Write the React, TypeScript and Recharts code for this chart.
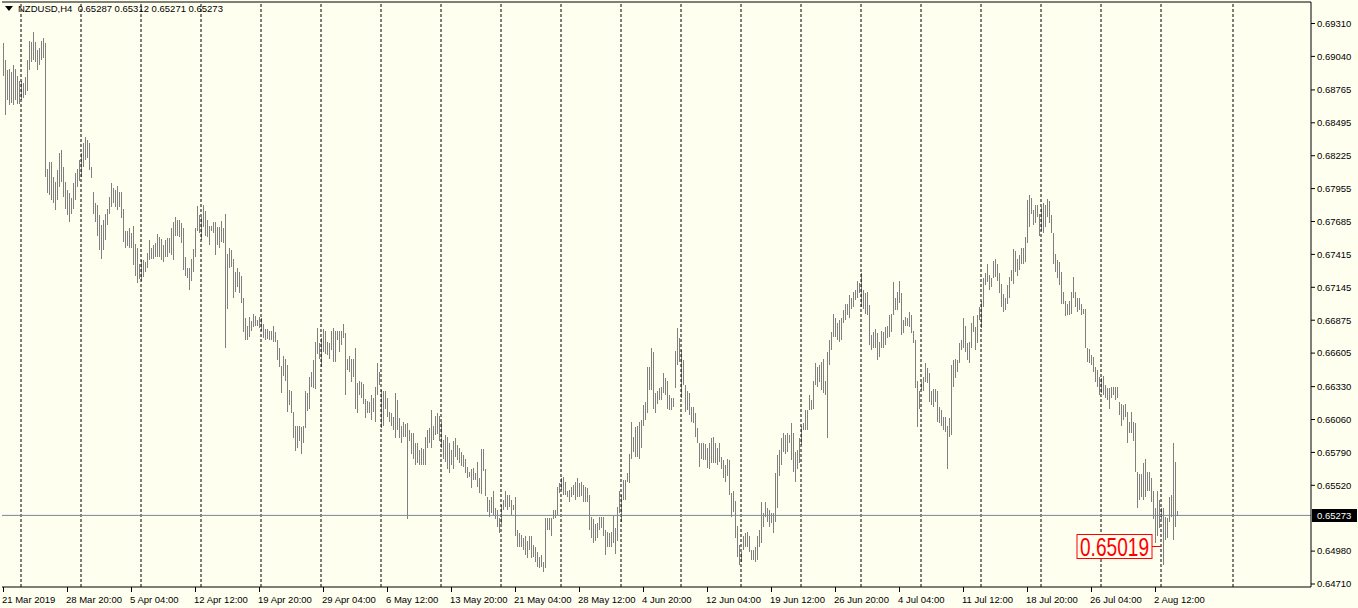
import { ComposedChart, Bar, XAxis, YAxis, ReferenceLine, ReferenceDot } from 'recharts';

// NZDUSD H4, one entry per bar, price in pips (x 0.0001)
const highs = [
  6915, 6901, 6893, 6894, 6891, 6897, 6894, 6888, 6884, 6884,
  6882, 6887, 6901, 6917, 6916, 6924, 6916, 6909, 6911, 6917,
  6919, 6915, 6812, 6817, 6817, 6805, 6801, 6811, 6825, 6827,
  6813, 6801, 6794, 6792, 6788, 6800, 6808, 6812, 6819, 6825,
  6833, 6838, 6835, 6833, 6813, 6793, 6784, 6782, 6774, 6766,
  6770, 6775, 6779, 6789, 6800, 6796, 6794, 6798, 6793, 6793,
  6779, 6761, 6761, 6763, 6759, 6765, 6750, 6747, 6734, 6737,
  6737, 6735, 6743, 6753, 6747, 6749, 6751, 6758, 6756, 6754,
  6749, 6753, 6755, 6755, 6763, 6768, 6772, 6770, 6770, 6767,
  6763, 6739, 6730, 6730, 6738, 6746, 6763, 6781, 6774, 6772,
  6782, 6777, 6770, 6765, 6765, 6768, 6768, 6764, 6764, 6769,
  6763, 6775, 6742, 6747, 6745, 6738, 6727, 6730, 6727, 6724,
  6706, 6689, 6683, 6690, 6687, 6693, 6691, 6688, 6690, 6689,
  6684, 6680, 6680, 6679, 6679, 6683, 6678, 6671, 6665, 6650,
  6658, 6656, 6651, 6630, 6629, 6612, 6601, 6601, 6601, 6600,
  6601, 6629, 6628, 6641, 6645, 6655, 6670, 6681, 6669, 6673,
  6680, 6679, 6670, 6669, 6679, 6681, 6679, 6679, 6679, 6679,
  6684, 6677, 6656, 6658, 6656, 6656, 6665, 6636, 6638, 6637,
  6635, 6623, 6621, 6620, 6626, 6624, 6633, 6652, 6645, 6630,
  6629, 6629, 6624, 6612, 6611, 6608, 6628, 6622, 6607, 6601,
  6604, 6602, 6603, 6597, 6595, 6595, 6587, 6587, 6581, 6583,
  6582, 6592, 6597, 6599, 6614, 6601, 6609, 6611, 6609, 6604,
  6589, 6593, 6592, 6587, 6581, 6588, 6591, 6585, 6583, 6579,
  6577, 6574, 6567, 6563, 6565, 6566, 6562, 6571, 6558, 6582,
  6582, 6565, 6542, 6540, 6542, 6547, 6533, 6532, 6525, 6536,
  6540, 6547, 6544, 6544, 6540, 6536, 6542, 6515, 6513, 6511,
  6509, 6510, 6506, 6510, 6510, 6503, 6501, 6497, 6493, 6495,
  6489, 6525, 6525, 6525, 6525, 6532, 6532, 6551, 6554, 6558,
  6559, 6555, 6547, 6548, 6551, 6552, 6555, 6558, 6554, 6555,
  6552, 6551, 6550, 6544, 6526, 6524, 6520, 6521, 6526, 6526,
  6526, 6515, 6514, 6513, 6514, 6527, 6517, 6534, 6547, 6544,
  6556, 6556, 6562, 6578, 6604, 6592, 6600, 6601, 6604, 6606,
  6618, 6620, 6649, 6649, 6665, 6661, 6628, 6629, 6632, 6633,
  6644, 6640, 6638, 6626, 6624, 6624, 6662, 6681, 6673, 6663,
  6655, 6634, 6629, 6628, 6616, 6616, 6611, 6599, 6587, 6587,
  6587, 6586, 6583, 6587, 6591, 6592, 6587, 6583, 6587, 6575,
  6573, 6569, 6574, 6573, 6546, 6547, 6539, 6519, 6503, 6497,
  6510, 6513, 6514, 6510, 6499, 6499, 6501, 6510, 6515, 6538,
  6529, 6538, 6533, 6532, 6529, 6529, 6562, 6577, 6581, 6591,
  6595, 6593, 6595, 6593, 6603, 6595, 6579, 6581, 6591, 6601,
  6603, 6614, 6614, 6626, 6622, 6638, 6652, 6649, 6651, 6653,
  6656, 6638, 6661, 6671, 6678, 6693, 6689, 6685, 6688, 6689,
  6696, 6701, 6701, 6708, 6706, 6711, 6712, 6720, 6718, 6726,
  6712, 6710, 6711, 6700, 6675, 6678, 6680, 6677, 6670, 6679,
  6678, 6682, 6683, 6692, 6693, 6719, 6706, 6711, 6720, 6710,
  6688, 6690, 6689, 6694, 6692, 6679, 6671, 6638, 6629, 6637,
  6641, 6652, 6648, 6644, 6629, 6631, 6631, 6629, 6616, 6614,
  6608, 6608, 6601, 6607, 6651, 6655, 6656, 6655, 6669, 6671,
  6689, 6683, 6669, 6670, 6685, 6691, 6682, 6692, 6698, 6703,
  6722, 6726, 6734, 6725, 6722, 6736, 6738, 6734, 6726, 6717,
  6709, 6706, 6716, 6723, 6729, 6746, 6744, 6738, 6741, 6747,
  6747, 6756, 6786, 6790, 6788, 6778, 6782, 6782, 6775, 6780,
  6784, 6782, 6787, 6785, 6774, 6759, 6742, 6737, 6735, 6727,
  6711, 6703, 6701, 6703, 6711, 6723, 6711, 6706, 6706, 6701,
  6697, 6697, 6665, 6664, 6659, 6657, 6649, 6647, 6641, 6640,
  6642, 6634, 6632, 6632, 6633, 6633, 6633, 6633, 6620, 6619,
  6618, 6619, 6612, 6604, 6612, 6604, 6603, 6563, 6561, 6561,
  6570, 6574, 6563, 6563, 6558, 6547, 6533, 6547, 6540, 6533,
  6533, 6526, 6525, 6542, 6544, 6587, 6571, 6531,
];

const lows = [
  6888, 6856, 6868, 6864, 6866, 6864, 6868, 6865, 6865, 6868,
  6870, 6872, 6876, 6893, 6899, 6901, 6899, 6893, 6897, 6901,
  6903, 6805, 6792, 6790, 6786, 6784, 6778, 6786, 6797, 6801,
  6789, 6779, 6774, 6768, 6775, 6779, 6786, 6797, 6802, 6805,
  6813, 6819, 6821, 6811, 6804, 6775, 6768, 6757, 6745, 6738,
  6745, 6753, 6766, 6775, 6780, 6784, 6780, 6778, 6780, 6771,
  6752, 6747, 6748, 6747, 6747, 6733, 6724, 6718, 6721, 6720,
  6723, 6727, 6730, 6737, 6738, 6738, 6739, 6739, 6739, 6737,
  6735, 6739, 6739, 6743, 6741, 6737, 6757, 6757, 6756, 6751,
  6729, 6724, 6722, 6712, 6720, 6727, 6739, 6761, 6759, 6753,
  6764, 6757, 6756, 6749, 6761, 6759, 6741, 6749, 6747, 6752,
  6751, 6665, 6697, 6730, 6731, 6706, 6711, 6715, 6710, 6702,
  6678, 6671, 6671, 6674, 6679, 6682, 6683, 6683, 6681, 6679,
  6673, 6671, 6672, 6671, 6671, 6670, 6670, 6655, 6649, 6628,
  6642, 6638, 6612, 6618, 6611, 6591, 6580, 6583, 6588, 6578,
  6587, 6599, 6613, 6615, 6633, 6632, 6631, 6660, 6656, 6649,
  6661, 6660, 6659, 6656, 6663, 6653, 6653, 6671, 6661, 6667,
  6673, 6626, 6647, 6645, 6637, 6641, 6615, 6611, 6626, 6624,
  6619, 6607, 6611, 6611, 6606, 6612, 6604, 6626, 6634, 6599,
  6601, 6615, 6608, 6604, 6601, 6597, 6591, 6597, 6591, 6587,
  6592, 6592, 6524, 6588, 6578, 6574, 6569, 6570, 6569, 6569,
  6569, 6569, 6583, 6587, 6583, 6589, 6593, 6594, 6588, 6583,
  6574, 6571, 6565, 6562, 6569, 6565, 6575, 6573, 6570, 6568,
  6567, 6562, 6558, 6559, 6550, 6556, 6556, 6551, 6546, 6545,
  6564, 6543, 6530, 6526, 6529, 6528, 6524, 6518, 6513, 6520,
  6532, 6534, 6532, 6534, 6528, 6532, 6510, 6501, 6501, 6501,
  6499, 6495, 6492, 6499, 6492, 6493, 6489, 6485, 6484, 6485,
  6481, 6484, 6515, 6515, 6510, 6524, 6525, 6528, 6546, 6548,
  6544, 6544, 6542, 6538, 6542, 6544, 6540, 6542, 6542, 6543,
  6538, 6538, 6538, 6515, 6509, 6505, 6506, 6509, 6515, 6517,
  6510, 6495, 6501, 6501, 6501, 6505, 6496, 6506, 6529, 6522,
  6540, 6540, 6555, 6554, 6574, 6579, 6575, 6575, 6574, 6583,
  6601, 6606, 6611, 6630, 6630, 6615, 6611, 6619, 6622, 6622,
  6628, 6626, 6615, 6614, 6614, 6616, 6632, 6651, 6653, 6624,
  6634, 6612, 6614, 6610, 6604, 6603, 6592, 6587, 6567, 6574,
  6573, 6573, 6566, 6565, 6570, 6570, 6570, 6569, 6571, 6565,
  6558, 6555, 6560, 6544, 6526, 6530, 6509, 6493, 6487, 6489,
  6499, 6501, 6501, 6497, 6491, 6491, 6489, 6491, 6501, 6505,
  6518, 6526, 6522, 6518, 6521, 6513, 6522, 6533, 6560, 6569,
  6579, 6578, 6579, 6587, 6573, 6563, 6555, 6565, 6570, 6585,
  6597, 6597, 6597, 6614, 6614, 6615, 6634, 6633, 6637, 6630,
  6628, 6626, 6591, 6651, 6663, 6674, 6674, 6671, 6670, 6671,
  6685, 6688, 6692, 6689, 6697, 6698, 6704, 6706, 6710, 6698,
  6697, 6693, 6692, 6667, 6663, 6665, 6665, 6655, 6657, 6665,
  6665, 6667, 6673, 6674, 6678, 6692, 6696, 6696, 6702, 6675,
  6677, 6683, 6683, 6682, 6677, 6669, 6632, 6600, 6615, 6630,
  6629, 6637, 6636, 6620, 6618, 6616, 6620, 6604, 6603, 6601,
  6597, 6596, 6565, 6592, 6593, 6633, 6640, 6645, 6652, 6663,
  6665, 6661, 6655, 6652, 6665, 6678, 6663, 6669, 6688, 6681,
  6698, 6716, 6719, 6712, 6715, 6722, 6723, 6720, 6710, 6698,
  6694, 6696, 6701, 6706, 6720, 6717, 6727, 6724, 6729, 6734,
  6734, 6735, 6751, 6764, 6775, 6766, 6767, 6772, 6757, 6761,
  6759, 6764, 6772, 6767, 6759, 6734, 6727, 6722, 6716, 6701,
  6701, 6691, 6692, 6692, 6693, 6706, 6698, 6694, 6696, 6692,
  6693, 6665, 6653, 6652, 6651, 6645, 6637, 6633, 6626, 6628,
  6626, 6624, 6622, 6615, 6624, 6626, 6622, 6624, 6610, 6601,
  6606, 6608, 6587, 6595, 6595, 6588, 6563, 6533, 6540, 6542,
  6540, 6542, 6547, 6547, 6538, 6524, 6505, 6510, 6517, 6524,
  6487, 6507, 6509, 6522, 6526, 6507, 6518, 6527,
];

const timeLabels = [
  '21 Mar 2019', '28 Mar 20:00', '5 Apr 04:00', '12 Apr 12:00', '19 Apr 20:00',
  '29 Apr 04:00', '6 May 12:00', '13 May 20:00', '21 May 04:00', '28 May 12:00',
  '4 Jun 20:00', '12 Jun 04:00', '19 Jun 12:00', '26 Jun 20:00', '4 Jul 04:00',
  '11 Jul 12:00', '18 Jul 20:00', '26 Jul 04:00', '2 Aug 12:00',
];
const labelBars = timeLabels.map((_, k) => k * 32);

// bar index of each Monday 00:00 (weekly grid)
const weekBars = [9, 39, 69, 99, 129, 159, 189, 219, 249, 279, 309, 339, 369, 399, 429, 459, 489, 519, 549, 579, 615];

const priceTicks = [
  0.6931, 0.6904, 0.68765, 0.68495, 0.68225, 0.67955, 0.67685, 0.67415, 0.67145,
  0.66875, 0.66605, 0.6633, 0.6606, 0.6579, 0.6552, 0.6498, 0.6471,
];

const symbol = 'NZDUSD,H4';
const lastOHLC = [0.65287, 0.65312, 0.65271, 0.65273];
const bidPrice = 0.65273;
const markBar = 579;
const markPrice = 0.65019;

const FONT = '"Liberation Sans", Arial, sans-serif';
const BG = '#fffff0';

const data = highs.map((h, i) => ({ i, range: [lows[i] / 10000, h / 10000] }));

const HLBar = (props: any) => {
  const { x, y, width, height } = props;
  const cx = Math.round(x + width / 2) + 0.5;
  const top = Math.round(y);
  const bottom = Math.max(top + 1, Math.round(y + height));
  return <line x1={cx} x2={cx} y1={top} y2={bottom} stroke="#808080" strokeWidth={1} shapeRendering="crispEdges" />;
};

const TimeTick = (props: any) => {
  const { x, y, payload, index } = props;
  return (
    <g>
      <line x1={Math.round(x) + 0.5} x2={Math.round(x) + 0.5} y1={y - 8} y2={y - 3} stroke="#000" />
      <text x={x - 1} y={y + 8} fontSize={9.5} fontFamily={FONT} fill="#000" textAnchor="start">
        {timeLabels[index] ?? payload.value}
      </text>
    </g>
  );
};

const PriceTag = (props: any) => {
  const vb = props.viewBox || {};
  const left = vb.x + vb.width + 1;
  const cy = Math.round(vb.y);
  return (
    <g>
      <rect x={left} y={cy - 6} width={45} height={13} fill="#000" />
      <text x={left + 5} y={cy + 4} fontSize={9.5} fontFamily={FONT} fill="#fff">
        {bidPrice.toFixed(5)}
      </text>
    </g>
  );
};

const PriceMark = (props: any) => {
  const { cx, cy } = props;
  const right = Math.round(cx) - 9;
  const y0 = Math.round(cy) + 0.5;
  return (
    <g>
      <line x1={right} x2={Math.round(cx)} y1={y0} y2={y0} stroke="#ff0000" strokeWidth={1} />
      <rect x={right - 75} y={y0 - 12} width={75} height={24} fill={BG} stroke="#ff0000" strokeWidth={1} />
      <text
        x={right - 72}
        y={y0 + 9.5}
        fontSize={26}
        fontFamily={FONT}
        fill="#ff0000"
        textLength={69}
        lengthAdjust="spacingAndGlyphs"
      >
        {markPrice.toFixed(5)}
      </text>
    </g>
  );
};

export default function App() {
  return (
    <div style={{ position: 'absolute', left: 0, top: 0, width: 1358, height: 608, background: BG, overflow: 'hidden' }}>
      <ComposedChart
        width={1358}
        height={608}
        data={data}
        margin={{ top: 2, right: 0, bottom: 0, left: 2 }}
      >
        <XAxis
          dataKey="i"
          type="number"
          domain={[-0.5, 654]}
          ticks={labelBars}
          interval={0}
          height={21}
          axisLine={{ stroke: '#000' }}
          tickLine={false}
          tick={<TimeTick />}
        />
        <YAxis
          orientation="right"
          type="number"
          domain={[0.646854, 0.694865]}
          ticks={priceTicks}
          interval={0}
          width={47}
          axisLine={{ stroke: '#000' }}
          tickLine={{ stroke: '#000' }}
          tickSize={4}
          tickMargin={2}
          tick={{ fontSize: 9.5, fontFamily: FONT, fill: '#000', textAnchor: 'start' }}
          tickFormatter={(v: number) => v.toFixed(5)}
        />
        {weekBars.map((b) => (
          <ReferenceLine key={b} x={b} stroke="#000" strokeDasharray="3 2" ifOverflow="extendDomain" />
        ))}
        <ReferenceLine y={0.694865} stroke="#000" />
        <ReferenceLine y={bidPrice} stroke="#778899" label={<PriceTag />} />
        <Bar dataKey="range" barSize={1} shape={<HLBar />} isAnimationActive={false} />
        <ReferenceDot x={markBar} y={markPrice} r={0} shape={<PriceMark />} ifOverflow="visible" />
      </ComposedChart>
      <div style={{ position: 'absolute', left: 5, top: 3, fontFamily: FONT, fontSize: 9.5, color: '#000', whiteSpace: 'pre', display: 'flex', alignItems: 'center' }}>
        <svg width={9} height={6} style={{ marginRight: 4 }}>
          <polygon points="0,0 8,0 4,5" fill="#000" />
        </svg>
        {symbol + '  ' + lastOHLC.map((v) => v.toFixed(5)).join(' ')}
      </div>
    </div>
  );
}
